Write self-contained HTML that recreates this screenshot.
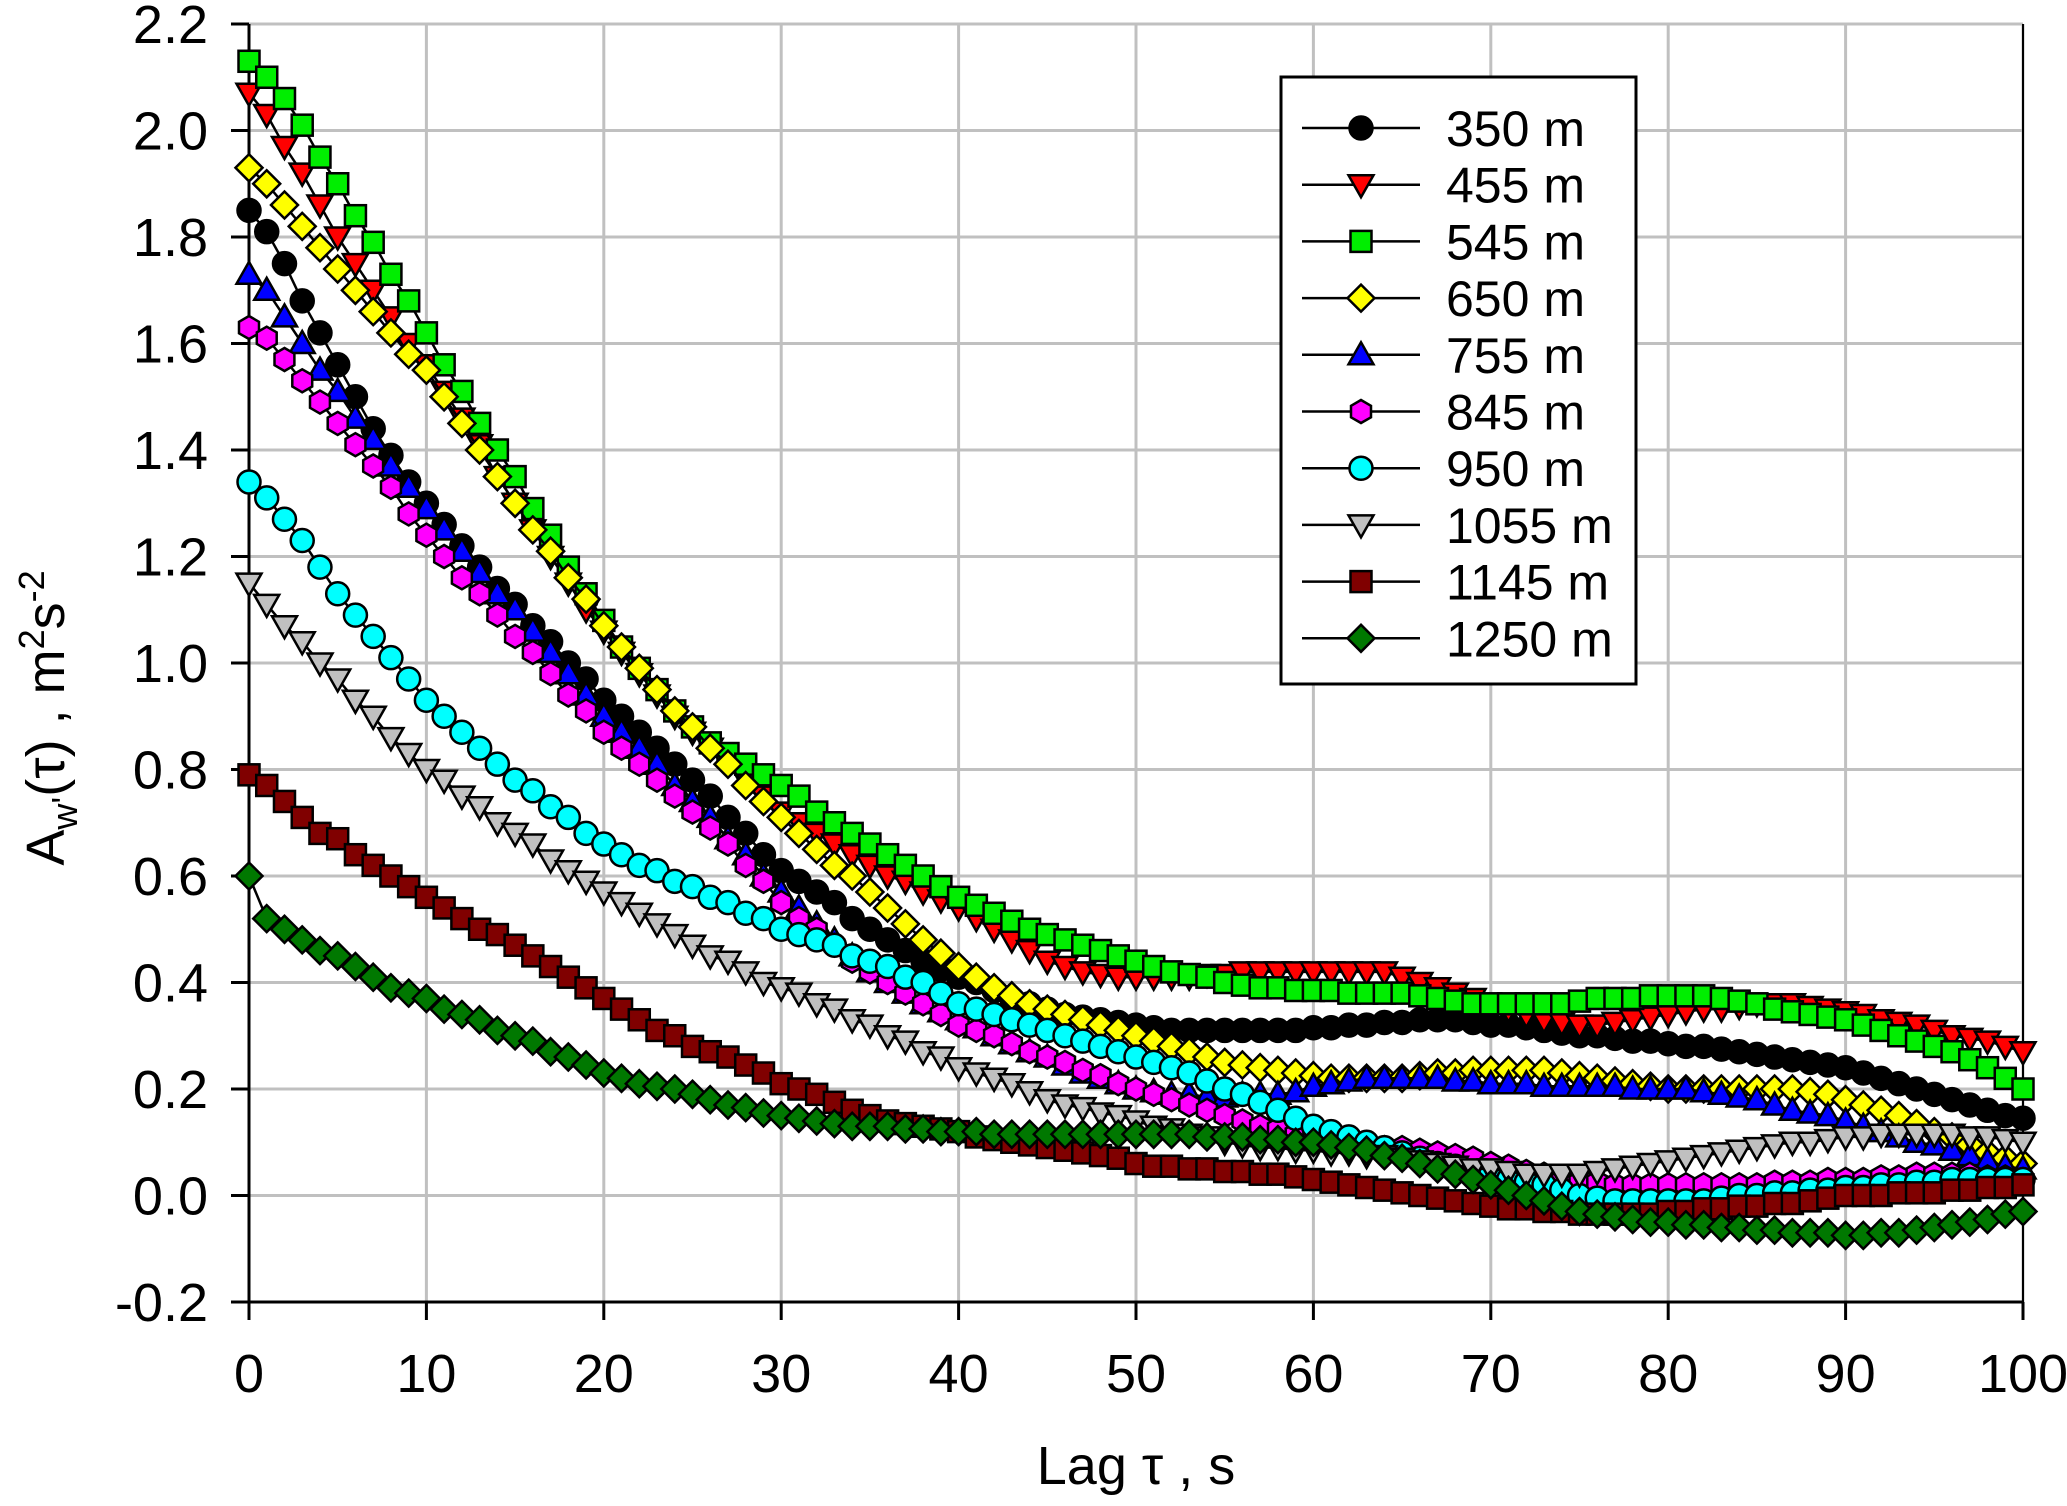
<!DOCTYPE html>
<html><head><meta charset="utf-8">
<style>
html,body{margin:0;padding:0;background:#fff;}
svg{display:block;font-family:"Liberation Sans",Arial,sans-serif;}
</style></head>
<body>
<svg id="chart" width="2067" height="1506" viewBox="0 0 2067 1506" xmlns="http://www.w3.org/2000/svg">
<g id="grid"></g>
<g id="axes"></g>
<g id="series"></g>
<g id="legend"></g>
<text x="1136" y="1484" font-size="54" text-anchor="middle">Lag τ , s</text>
<text transform="translate(64,718) rotate(-90)" font-size="54" text-anchor="middle">A<tspan font-size="36" dy="13">w'</tspan><tspan dy="-13">(τ) , m</tspan><tspan font-size="36" dy="-20">2</tspan><tspan dy="20">s</tspan><tspan font-size="36" dy="-20">-2</tspan></text>
</svg>
<script>
const xTicks=[0,10,20,30,40,50,60,70,80,90,100];
const yTicks=[-0.2,0,0.2,0.4,0.6,0.8,1.0,1.2,1.4,1.6,1.8,2.0,2.2];
const seriesNames=["350 m","455 m","545 m","650 m","755 m","845 m","950 m","1055 m","1145 m","1250 m"];
const s350=[1.85,1.81,1.75,1.68,1.62,1.56,1.50,1.44,1.39,1.34,1.30,1.26,1.22,1.18,1.14,1.11,1.07,1.04,1.00,0.97,0.93,0.90,0.87,0.84,0.81,0.78,0.75,0.71,0.68,0.64,0.61,0.59,0.57,0.55,0.52,0.50,0.48,0.46,0.44,0.425,0.41,0.40,0.385,0.37,0.36,0.35,0.34,0.335,0.33,0.325,0.32,0.315,0.31,0.31,0.31,0.31,0.31,0.31,0.31,0.31,0.315,0.315,0.32,0.32,0.325,0.325,0.33,0.33,0.33,0.325,0.32,0.32,0.315,0.31,0.305,0.30,0.30,0.295,0.29,0.29,0.285,0.28,0.28,0.275,0.27,0.265,0.26,0.255,0.25,0.245,0.24,0.23,0.22,0.21,0.20,0.19,0.18,0.17,0.16,0.15,0.145];
const s455=[2.07,2.03,1.97,1.92,1.86,1.80,1.75,1.70,1.65,1.60,1.56,1.51,1.46,1.41,1.35,1.30,1.25,1.20,1.15,1.10,1.06,1.02,0.98,0.94,0.90,0.87,0.84,0.81,0.78,0.75,0.72,0.70,0.68,0.66,0.64,0.62,0.60,0.59,0.57,0.555,0.54,0.52,0.50,0.48,0.46,0.44,0.43,0.42,0.415,0.41,0.41,0.41,0.41,0.41,0.415,0.415,0.42,0.42,0.42,0.42,0.42,0.42,0.42,0.42,0.42,0.41,0.40,0.39,0.38,0.37,0.36,0.35,0.34,0.33,0.325,0.32,0.32,0.325,0.33,0.335,0.34,0.345,0.35,0.35,0.355,0.36,0.36,0.36,0.355,0.35,0.345,0.34,0.33,0.325,0.32,0.31,0.30,0.295,0.29,0.28,0.27];
const s545=[2.13,2.10,2.06,2.01,1.95,1.90,1.84,1.79,1.73,1.68,1.62,1.56,1.51,1.45,1.40,1.35,1.29,1.24,1.18,1.13,1.08,1.03,0.99,0.95,0.91,0.88,0.85,0.83,0.81,0.79,0.77,0.75,0.72,0.70,0.68,0.66,0.64,0.62,0.60,0.58,0.56,0.545,0.53,0.515,0.50,0.49,0.48,0.47,0.46,0.45,0.44,0.43,0.42,0.415,0.41,0.40,0.395,0.39,0.39,0.385,0.385,0.385,0.38,0.38,0.38,0.38,0.375,0.37,0.365,0.36,0.36,0.36,0.36,0.36,0.36,0.365,0.37,0.37,0.37,0.375,0.375,0.375,0.375,0.37,0.365,0.36,0.35,0.345,0.34,0.335,0.33,0.32,0.31,0.30,0.29,0.28,0.27,0.255,0.24,0.22,0.20];
const s650=[1.93,1.90,1.86,1.82,1.78,1.74,1.70,1.66,1.62,1.58,1.55,1.50,1.45,1.40,1.35,1.30,1.25,1.21,1.16,1.12,1.07,1.03,0.99,0.95,0.91,0.88,0.84,0.81,0.77,0.74,0.71,0.68,0.65,0.62,0.60,0.57,0.54,0.51,0.48,0.455,0.43,0.41,0.39,0.375,0.36,0.35,0.34,0.33,0.32,0.31,0.30,0.29,0.28,0.27,0.26,0.25,0.245,0.24,0.235,0.23,0.225,0.22,0.22,0.22,0.22,0.22,0.225,0.23,0.23,0.235,0.235,0.235,0.235,0.235,0.23,0.225,0.22,0.215,0.21,0.205,0.20,0.20,0.20,0.20,0.20,0.20,0.20,0.20,0.195,0.19,0.18,0.17,0.16,0.15,0.135,0.12,0.11,0.095,0.08,0.07,0.06];
const s755=[1.73,1.70,1.65,1.60,1.55,1.51,1.46,1.42,1.37,1.33,1.29,1.25,1.21,1.17,1.13,1.10,1.06,1.02,0.98,0.94,0.90,0.87,0.84,0.81,0.77,0.74,0.71,0.67,0.64,0.60,0.57,0.54,0.51,0.48,0.45,0.42,0.40,0.38,0.36,0.345,0.33,0.315,0.30,0.285,0.27,0.26,0.245,0.23,0.22,0.21,0.20,0.195,0.19,0.19,0.185,0.185,0.19,0.19,0.19,0.195,0.205,0.21,0.215,0.22,0.22,0.22,0.22,0.22,0.215,0.215,0.21,0.21,0.21,0.205,0.205,0.205,0.205,0.205,0.20,0.20,0.20,0.20,0.195,0.19,0.185,0.18,0.17,0.16,0.155,0.15,0.14,0.13,0.12,0.11,0.10,0.095,0.085,0.075,0.065,0.055,0.05];
const s845=[1.63,1.61,1.57,1.53,1.49,1.45,1.41,1.37,1.33,1.28,1.24,1.20,1.16,1.13,1.09,1.05,1.02,0.98,0.94,0.91,0.87,0.84,0.81,0.78,0.75,0.72,0.69,0.66,0.62,0.59,0.55,0.52,0.50,0.47,0.44,0.42,0.40,0.38,0.36,0.34,0.32,0.31,0.30,0.285,0.27,0.26,0.25,0.235,0.225,0.21,0.20,0.19,0.18,0.17,0.16,0.15,0.14,0.13,0.125,0.115,0.11,0.105,0.10,0.095,0.09,0.09,0.085,0.08,0.075,0.07,0.06,0.055,0.045,0.04,0.03,0.025,0.025,0.02,0.02,0.02,0.02,0.02,0.02,0.02,0.02,0.02,0.025,0.025,0.025,0.03,0.03,0.03,0.035,0.035,0.04,0.04,0.04,0.04,0.035,0.035,0.03];
const s950=[1.34,1.31,1.27,1.23,1.18,1.13,1.09,1.05,1.01,0.97,0.93,0.90,0.87,0.84,0.81,0.78,0.76,0.73,0.71,0.68,0.66,0.64,0.62,0.61,0.59,0.58,0.56,0.55,0.53,0.52,0.50,0.49,0.48,0.47,0.45,0.44,0.43,0.41,0.40,0.38,0.36,0.35,0.34,0.33,0.32,0.31,0.30,0.29,0.28,0.27,0.26,0.25,0.24,0.23,0.215,0.20,0.19,0.175,0.16,0.145,0.13,0.12,0.11,0.10,0.09,0.08,0.07,0.06,0.055,0.045,0.04,0.03,0.025,0.02,0.01,0.0,-0.005,-0.01,-0.01,-0.01,-0.01,-0.01,-0.01,-0.005,0.0,0.0,0.005,0.005,0.01,0.01,0.015,0.015,0.02,0.02,0.025,0.025,0.03,0.03,0.03,0.03,0.03];
const s1055=[1.15,1.11,1.07,1.04,1.00,0.97,0.93,0.90,0.86,0.83,0.80,0.78,0.75,0.73,0.70,0.68,0.66,0.63,0.61,0.59,0.57,0.55,0.53,0.51,0.49,0.47,0.45,0.44,0.42,0.40,0.39,0.38,0.36,0.35,0.33,0.32,0.30,0.29,0.27,0.26,0.24,0.23,0.22,0.21,0.195,0.18,0.17,0.165,0.155,0.15,0.14,0.13,0.125,0.115,0.11,0.10,0.095,0.09,0.09,0.085,0.085,0.08,0.08,0.075,0.075,0.07,0.065,0.06,0.055,0.05,0.05,0.045,0.04,0.04,0.04,0.04,0.045,0.05,0.055,0.06,0.065,0.07,0.075,0.08,0.085,0.09,0.095,0.10,0.10,0.105,0.11,0.11,0.115,0.115,0.115,0.115,0.115,0.11,0.11,0.105,0.10];
const s1145=[0.79,0.77,0.74,0.71,0.68,0.67,0.64,0.62,0.60,0.58,0.56,0.54,0.52,0.50,0.49,0.47,0.45,0.43,0.41,0.39,0.37,0.35,0.33,0.31,0.30,0.28,0.27,0.26,0.245,0.23,0.21,0.20,0.19,0.175,0.16,0.15,0.14,0.135,0.13,0.125,0.12,0.11,0.105,0.10,0.095,0.09,0.085,0.08,0.075,0.07,0.06,0.055,0.055,0.05,0.05,0.045,0.045,0.04,0.04,0.035,0.03,0.025,0.02,0.015,0.01,0.005,0.0,-0.005,-0.01,-0.015,-0.02,-0.025,-0.025,-0.03,-0.03,-0.035,-0.035,-0.035,-0.035,-0.035,-0.03,-0.03,-0.025,-0.025,-0.02,-0.02,-0.015,-0.015,-0.01,-0.005,0.0,0.0,0.0,0.005,0.005,0.005,0.01,0.01,0.015,0.015,0.02];
const s1250=[0.60,0.52,0.50,0.48,0.46,0.45,0.43,0.41,0.39,0.38,0.37,0.35,0.34,0.33,0.31,0.30,0.29,0.27,0.26,0.245,0.23,0.22,0.21,0.205,0.20,0.19,0.18,0.17,0.165,0.155,0.15,0.145,0.14,0.135,0.13,0.13,0.13,0.125,0.125,0.12,0.12,0.12,0.115,0.115,0.115,0.115,0.115,0.115,0.115,0.115,0.115,0.115,0.115,0.115,0.11,0.11,0.11,0.105,0.105,0.10,0.10,0.095,0.09,0.085,0.075,0.07,0.06,0.05,0.04,0.03,0.02,0.01,0.0,-0.01,-0.02,-0.03,-0.035,-0.04,-0.045,-0.05,-0.05,-0.055,-0.055,-0.06,-0.06,-0.065,-0.065,-0.07,-0.07,-0.07,-0.075,-0.075,-0.07,-0.07,-0.065,-0.06,-0.055,-0.05,-0.045,-0.035,-0.03];
const seriesValues=[s350,s455,s545,s650,s755,s845,s950,s1055,s1145,s1250];

const NS="http://www.w3.org/2000/svg";
const X0=249,X1=2023,Y0=1302,Y1=24,XMIN=0,XMAX=100,YMIN=-0.2,YMAX=2.2;
function xs(v){return X0+(v-XMIN)/(XMAX-XMIN)*(X1-X0);}
function ys(v){return Y0-(v-YMIN)/(YMAX-YMIN)*(Y0-Y1);}
function mk(tag,attrs,parent){const e=document.createElementNS(NS,tag);for(const k in attrs)e.setAttribute(k,attrs[k]);parent.appendChild(e);return e;}
const grid=document.getElementById('grid'),axes=document.getElementById('axes'),ser=document.getElementById('series'),leg=document.getElementById('legend');

xTicks.forEach(t=>{
  const g=mk('line',{x1:xs(t),x2:xs(t),y1:Y1,y2:Y0,stroke:'#c0c0c0','stroke-width':3},grid);
  
  
  const tk=mk('line',{x1:xs(t),x2:xs(t),y1:Y0,y2:Y0+18,stroke:'#000','stroke-width':3},axes);
  
  
  const lb=mk('text',{x:xs(t),y:1392,'font-size':54,'text-anchor':'middle'},axes);
  lb.textContent=String(t);
  
  
});
yTicks.forEach(t=>{
  const g=mk('line',{x1:X0,x2:X1,y1:ys(t),y2:ys(t),stroke:'#c0c0c0','stroke-width':3},grid);
  
  
  const tk=mk('line',{x1:X0-18,x2:X0,y1:ys(t),y2:ys(t),stroke:'#000','stroke-width':3},axes);
  
  
  const lb=mk('text',{x:208,y:ys(t)+19,'font-size':54,'text-anchor':'end'},axes);
  lb.textContent=t.toFixed(1);
  
  
});
const la=mk('line',{x1:X0,x2:X0,y1:Y1,y2:Y0,stroke:'#000','stroke-width':3},axes);


const ba=mk('line',{x1:X0,x2:X1,y1:Y0,y2:Y0,stroke:'#000','stroke-width':3},axes);


const ra=mk('line',{x1:X1,x2:X1,y1:Y1,y2:Y0,stroke:'#000','stroke-width':2},axes);



const fills=['#000000','#ff0000','#00ee00','#ffff00','#0000ff','#ff00ff','#00ffff','#c0c0c0','#800000','#007800'];
const shapes=['circle','tdown','square','diamond','tup','hex','circle','tdown','square','diamond'];
function marker(shape,cx,cy,fill,parent){
  const r=11.5;let e;
  const st={fill:fill,stroke:'#000','stroke-width':2.5};
  if(shape==='circle'){e=mk('circle',Object.assign({cx:cx,cy:cy,r:r},st),parent);}
  else if(shape==='square'){e=mk('rect',Object.assign({x:cx-r+1,y:cy-r+1,width:2*r-2,height:2*r-2},st),parent);}
  else{
    let p;
    if(shape==='tdown')p=[[cx-r-1,cy-r+2],[cx+r+1,cy-r+2],[cx,cy+r+1]];
    else if(shape==='tup')p=[[cx-r-1,cy+r-2],[cx+r+1,cy+r-2],[cx,cy-r-1]];
    else if(shape==='diamond')p=[[cx,cy-r-2],[cx+r+2,cy],[cx,cy+r+2],[cx-r-2,cy]];
    else {p=[];for(let i=0;i<6;i++){const a=Math.PI/6+i*Math.PI/3;p.push([cx+r*Math.cos(a),cy+r*Math.sin(a)]);}}
    e=mk('polygon',Object.assign({points:p.map(q=>q[0].toFixed(1)+','+q[1].toFixed(1)).join(' ')},st),parent);
  }
  return e;
}
seriesValues.forEach((vals,si)=>{
  const g=mk('g',{},ser);
  
  
  const pts=vals.map((v,i)=>xs(i).toFixed(1)+','+ys(v).toFixed(1)).join(' ');
  const pl=mk('polyline',{points:pts,fill:'none',stroke:'#000','stroke-width':2.5},g);
  
  
  vals.forEach((v,i)=>{
    const m=marker(shapes[si],xs(i),ys(v),fills[si],g);
    
    
  });
});
// legend
const box=mk('rect',{x:1281,y:77,width:355,height:607,fill:'#fff',stroke:'#000','stroke-width':3},leg);


seriesNames.forEach((n,si)=>{
  const y=128+si*56.7;
  const g=mk('g',{},leg);
  
  
  mk('line',{x1:1302,x2:1420,y1:y,y2:y,stroke:'#000','stroke-width':2.5},g);
  marker(shapes[si],1361,y,fills[si],g);
  const t=mk('text',{x:1446,y:y+18,'font-size':50},g);
  t.textContent=n;
});
</script>
</body></html>
